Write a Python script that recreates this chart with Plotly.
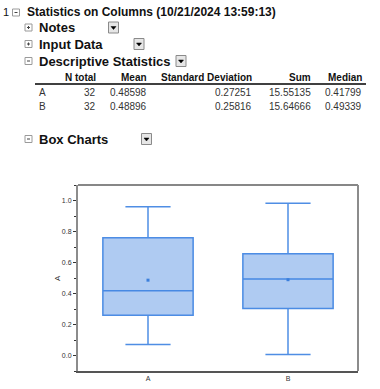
import plotly.graph_objects as go

# ---------------- data ----------------
categories = ["A", "B"]
q1 = [0.259, 0.304]
median = [0.41799, 0.49339]
q3 = [0.759, 0.657]
lower_whisker = [0.071, 0.006]
upper_whisker = [0.959, 0.983]
mean = [0.48598, 0.48896]

n_total = [32, 32]
std_dev = [0.27251, 0.25816]
sums = [15.55135, 15.64666]
table_headers = ["N total", "Mean", "Standard Deviation", "Sum", "Median"]

report_title = "Statistics on Columns (10/21/2024 13:59:13)"
sections = ["Notes", "Input Data", "Descriptive Statistics", "Box Charts"]

# ---------------- layout helpers ----------------
W, H = 380, 389
PL, PR, PT, PB = 78, 358, 185, 371   # plot area in pixels


def px(x):
    return x / W


def py(y):
    return 1 - y / H


FONT = "Arial, Liberation Sans, sans-serif"
BOX_LINE = "rgba(60,130,225,0.9)"
BOX_FILL = "#afcbf2"

fig = go.Figure()
fig.add_trace(go.Box(
    x=categories, q1=q1, median=median, q3=q3,
    lowerfence=lower_whisker, upperfence=upper_whisker,
    width=0.645, whiskerwidth=0.5, boxpoints=False,
    fillcolor=BOX_FILL, line=dict(color=BOX_LINE, width=1.5),
    showlegend=False, hoverinfo="skip",
))
fig.add_trace(go.Scatter(
    x=categories, y=mean, mode="markers",
    marker=dict(symbol="square", size=3, color="#3b7fdc"),
    showlegend=False, hoverinfo="skip",
))

annotations = []
shapes = []


def text(x, y, s, size, bold=False, anchor="left", color="#111"):
    annotations.append(dict(
        x=px(x), y=py(y), xref="paper", yref="paper", text=(f"<b>{s}</b>" if bold else s),
        showarrow=False, xanchor=anchor, yanchor="middle",
        font=dict(family=FONT, size=size, color=color), borderpad=0,
    ))


def icon(x0, y0, expanded=True):
    shapes.append(dict(type="rect", xref="paper", yref="paper",
                       x0=px(x0), x1=px(x0 + 7), y0=py(y0), y1=py(y0 + 7),
                       line=dict(color="#9a9a9a", width=1), fillcolor="white"))
    shapes.append(dict(type="line", xref="paper", yref="paper",
                       x0=px(x0 + 2), x1=px(x0 + 5), y0=py(y0 + 3.5), y1=py(y0 + 3.5),
                       line=dict(color="#444", width=1)))
    if not expanded:
        shapes.append(dict(type="line", xref="paper", yref="paper",
                           x0=px(x0 + 3.5), x1=px(x0 + 3.5), y0=py(y0 + 2), y1=py(y0 + 5),
                           line=dict(color="#444", width=1)))


def button(x0, y0):
    shapes.append(dict(type="rect", xref="paper", yref="paper",
                       x0=px(x0), x1=px(x0 + 10), y0=py(y0), y1=py(y0 + 11),
                       line=dict(color="#8a8a8a", width=1), fillcolor="#e6e6e6"))
    cx, cy = x0 + 5, y0 + 6
    path = (f"M {px(cx - 2.5)},{py(cy - 1.5)} L {px(cx + 2.5)},{py(cy - 1.5)} "
            f"L {px(cx)},{py(cy + 1.5)} Z")
    shapes.append(dict(type="path", xref="paper", yref="paper", path=path,
                       fillcolor="black", line=dict(color="black", width=0.5)))


# report header
text(2, 12, "1", 11)
icon(12.5, 9, True)
text(26, 12, report_title, 12, bold=True)

# sections
sec_y = [27.5, 44, 61, 139]
sec_expanded = [False, False, True, True]
btn_x = [108.5, 134, 176, 141.5]
for name, yy, ex, bx in zip(sections, sec_y, sec_expanded, btn_x):
    icon(25, yy - 3.5, ex)
    text(38, yy, name, 13, bold=True)
    button(bx, yy - 5.5)

# table
col_right = [97, 148, 253, 312, 363]
for h, xr in zip(table_headers, col_right):
    text(xr, 77, h, 10, bold=True, anchor="right")
shapes.append(dict(type="line", xref="paper", yref="paper",
                   x0=px(35), x1=px(366), y0=py(84), y1=py(84),
                   line=dict(color="black", width=1.5)))
row_y = [92.5, 106.7]
for i, cat in enumerate(categories):
    vals = [f"{n_total[i]}", f"{mean[i]:.5f}", f"{std_dev[i]:.5f}",
            f"{sums[i]:.5f}", f"{median[i]:.5f}"]
    text(37.5, row_y[i], cat, 10, color="#333")
    for v, xr in zip(vals, col_right):
        text(xr, row_y[i], v, 10, anchor="right", color="#333")

# y axis title
annotations.append(dict(x=px(57), y=py(278), xref="paper", yref="paper", text="A",
                        showarrow=False, textangle=-90, xanchor="center", yanchor="middle",
                        font=dict(family=FONT, size=8, color="#333")))

# frame: top and right
shapes.append(dict(type="line", xref="paper", yref="paper",
                   x0=px(PL), x1=px(PR), y0=py(PT), y1=py(PT),
                   line=dict(color="#111", width=1.2)))
shapes.append(dict(type="line", xref="paper", yref="paper",
                   x0=px(PR), x1=px(PR), y0=py(PB), y1=py(PT),
                   line=dict(color="#8c8c8c", width=2)))

fig.update_layout(
    width=W, height=H,
    margin=dict(l=0, r=0, t=0, b=0, pad=0),
    paper_bgcolor="white", plot_bgcolor="white",
    font=dict(family=FONT),
    annotations=annotations, shapes=shapes,
    xaxis=dict(domain=[px(PL), px(PR)], range=[-0.5, 1.5], showgrid=False, zeroline=False,
               showline=True, linecolor="#555", linewidth=2, automargin=False,
               ticks="", tickfont=dict(size=7, color="#333"), fixedrange=True),
    yaxis=dict(domain=[py(PB), py(PT)], range=[-0.1, 1.1], showgrid=False, zeroline=False,
               showline=True, linecolor="#8c8c8c", linewidth=2, automargin=False,
               tick0=0, dtick=0.2, tickformat=".1f",
               ticks="outside", ticklen=3, tickcolor="#333", tickwidth=1,
               minor=dict(dtick=0.1, ticks="outside", ticklen=2, tickcolor="#333"),
               tickfont=dict(size=7, color="#333"), fixedrange=True),
)

fig.write_html("out.html", config={"displayModeBar": False},
               post_script="document.body.style.margin='0';")
